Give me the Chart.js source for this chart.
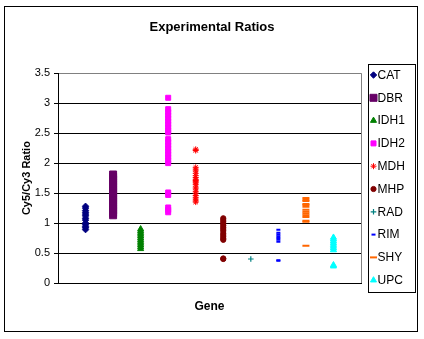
<!DOCTYPE html>
<html><head><meta charset="utf-8">
<script src="https://cdn.jsdelivr.net/npm/chart.js@4.4.0/dist/chart.umd.min.js"></script>
<style>html,body{margin:0;padding:0;background:#fff}</style>
</head><body>
<canvas id="c" width="424" height="339"></canvas>
<script>
// ---- data ----
const genes = ['CAT','DBR','IDH1','IDH2','MDH','MHP','RAD','RIM','SHY','UPC'];
const CAT  = [1.28,1.25,1.21,1.18,1.15,1.12,1.08,1.05,1.00,0.97,0.94,0.92,0.89];
const DBR  = [1.81,1.77,1.73,1.69,1.65,1.61,1.57,1.53,1.49,1.45,1.41,1.37,1.33,1.29,1.25,1.21,1.17,1.13];
const IDH1 = [0.90,0.87,0.84,0.81,0.78,0.75,0.72,0.69,0.66,0.63,0.60,0.57];
const IDH2 = [3.09,2.90,2.85,2.80,2.75,2.70,2.65,2.60,2.55,2.51,2.40,2.35,2.30,2.25,2.20,2.15,2.10,2.05,2.00,1.51,1.47,1.26,1.22,1.18];
const MDH  = [2.23,2.21,1.93,1.90,1.87,1.83,1.79,1.76,1.73,1.71,1.69,1.67,1.64,1.60,1.57,1.53,1.50,1.46,1.43,1.40,1.37,1.35];
const MHP  = [1.08,1.05,1.02,0.99,0.96,0.93,0.90,0.87,0.83,0.80,0.77,0.74,0.72,0.41,0.40];
const RAD  = [0.40];
const RIM  = [0.89,0.84,0.81,0.78,0.75,0.72,0.69,0.38,0.37];
const SHY  = [1.42,1.39,1.37,1.32,1.30,1.27,1.22,1.19,1.16,1.13,1.10,1.04,1.02,0.62];
const UPC  = [0.76,0.73,0.70,0.67,0.64,0.61,0.58,0.55,0.30,0.28];
const yTicks = [0,0.5,1,1.5,2,2.5,3,3.5];
const series = [CAT,DBR,IDH1,IDH2,MDH,MHP,RAD,RIM,SHY,UPC];

// ---- styles ----
const colors = ['#000080','#660066','#008000','#FF00FF','#FF0000','#800000','#008080','#0000FF','#FF6600','#00FFFF'];
const shapes = ['rectRot','rect','triangle','rect','star','circle','cross','line','line','triangle'];
const radii  = [3.2,4.95,3.5,3.54,3,2.6,2.8,2,3.5,3.5];
const borders= [1,1,1,1,1,1,1.2,2,2,1];
const FONT = "'Liberation Sans', Arial, sans-serif";

const datasets = genes.map((g,i)=>({
  label: g,
  data: series[i].map(v=>({x:i+1,y:v})),
  pointStyle: shapes[i],
  pointRadius: radii[i],
  pointHoverRadius: radii[i],
  pointBorderWidth: borders[i],
  backgroundColor: colors[i],
  borderColor: colors[i],
  showLine:false
}));

const framePlugin = {
  id:'frame',
  beforeDatasetsDraw(chart){
    const {ctx, chartArea:a} = chart;
    ctx.save();
    ctx.strokeStyle='#808080'; ctx.lineWidth=1;
    ctx.beginPath();
    ctx.moveTo(Math.round(a.right)+0.5, a.top);
    ctx.lineTo(Math.round(a.right)+0.5, a.bottom);
    ctx.stroke();
    ctx.restore();
  },
  afterDraw(chart){
    const ctx = chart.ctx;
    ctx.save();
    ctx.strokeStyle='#000'; ctx.lineWidth=1;
    ctx.strokeRect(4.5,6.5,413,325);
    // legend
    ctx.strokeRect(368.5,64.5,47,228);
    ctx.font = "12px " + FONT;
    ctx.fillStyle='#000';
    ctx.textBaseline='middle';
    ctx.textAlign='left';
    chart.data.datasets.forEach((ds,i)=>{
      const y = 75 + i*22.8;
      ctx.save();
      ctx.fillStyle = ds.backgroundColor;
      ctx.strokeStyle = ds.borderColor;
      ctx.lineWidth = ds.pointBorderWidth;
      Chart.helpers.drawPoint(ctx,{pointStyle:ds.pointStyle,radius:ds.pointRadius,rotation:0,borderWidth:ds.pointBorderWidth},373.5,y);
      ctx.restore();
      ctx.fillStyle='#000';
      ctx.fillText(ds.label, 377.5, y+0.5);
    });
    ctx.restore();
  }
};

new Chart(document.getElementById('c'),{
  type:'scatter',
  data:{datasets},
  options:{
    responsive:false,
    animation:false,
    devicePixelRatio:1,
    layout:{padding:{left:0,right:0,top:0,bottom:0}},
    plugins:{
      legend:{display:false},
      tooltip:{enabled:false},
      title:{display:true,text:'Experimental Ratios',color:'#000',
        font:{family:FONT,size:13,weight:'bold'},padding:{top:20,bottom:37.6}}
    },
    scales:{
      x:{type:'linear',min:0,max:11,
        ticks:{display:false},
        grid:{display:false},
        border:{display:true,color:'#000'},
        title:{display:true,text:'Gene',color:'#000',font:{family:FONT,size:12,weight:'bold'},padding:{top:0,bottom:25}},
        afterFit(s){s.width=s.width; s.height=56;}
      },
      y:{min:0,max:3.5,
        afterBuildTicks(s){s.ticks = yTicks.map(v=>({value:v}));},
        ticks:{color:'#000',padding:4,font:{family:FONT,size:11},callback:v=>String(v)},
        grid:{color:c=>c.tick && c.tick.value===3.5?'#808080':'#000',tickColor:'#000',tickLength:4,lineWidth:1},
        border:{display:true,color:'#000'},
        title:{display:true,text:'Cy5/Cy3 Ratio',color:'#000',font:{family:FONT,size:11,weight:'bold'},padding:{top:20}},
        afterFit(s){s.width=58;}
      },
      legendSpace:{position:'right',display:true,
        ticks:{display:false},grid:{display:false},border:{display:false},
        afterFit(s){s.width=63;}
      }
    }
  },
  plugins:[framePlugin]
});
</script>
</body></html>
